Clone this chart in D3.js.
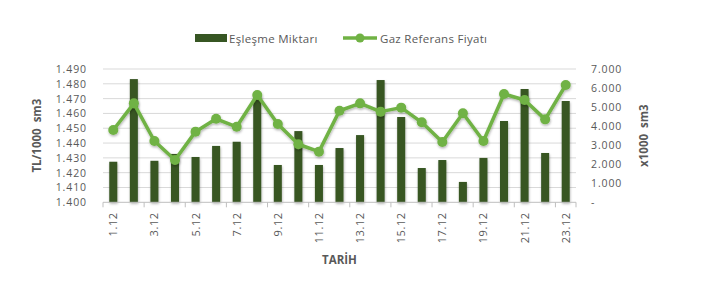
<!DOCTYPE html>
<html><head><meta charset="utf-8">
<script src="https://cdn.jsdelivr.net/npm/d3@7"></script>
<style>
body{margin:0;background:#fff;}
text{font-family:"Open Sans",sans-serif;fill:#595959;}
</style></head><body>
<svg id="c" width="703" height="282"></svg>
<script>
const categories = ["1.12","2.12","3.12","4.12","5.12","6.12","7.12","8.12","9.12","10.12","11.12","12.12","13.12","14.12","15.12","16.12","17.12","18.12","19.12","20.12","21.12","22.12","23.12"];
const eslesme = [2130,6470,2180,2540,2380,2960,3180,5600,1960,3740,1960,2850,3530,6420,4480,1800,2220,1070,2330,4270,5950,2590,5320];
const fiyat = [1.4488,1.4668,1.4414,1.4286,1.4477,1.4564,1.4510,1.4724,1.4529,1.4392,1.4342,1.4618,1.4668,1.4612,1.4639,1.4540,1.4407,1.4601,1.4414,1.4731,1.4691,1.4560,1.4792];
const leftTicks = [1.400,1.410,1.420,1.430,1.440,1.450,1.460,1.470,1.480,1.490];
const rightTicks = [0,1000,2000,3000,4000,5000,6000,7000];
const seriesNames = ["Eşleşme Miktarı","Gaz Referans Fiyatı"];

const svg = d3.select("#c");
const L=103, R=576, T=69, B=202.3;
const barColor="#375623", lineColor="#70b244";

const x = d3.scaleBand().domain(categories).range([L,R]).paddingInner(0.61).paddingOuter(0.305);
const xb = d3.scaleBand().domain(categories).range([L,R]);
const yL = d3.scaleLinear().domain([1.400,1.490]).range([B,T]);
const yR = d3.scaleLinear().domain([0,7000]).range([B,T]);

const defs = svg.append("defs");
const f = defs.append("filter").attr("id","sh").attr("x","-20%").attr("y","-20%").attr("width","140%").attr("height","160%");
f.append("feDropShadow").attr("dx",0.5).attr("dy",1.5).attr("stdDeviation",1.2).attr("flood-color","#000").attr("flood-opacity",0.3);

// grid
svg.append("g").selectAll("line").data(leftTicks.slice(1)).join("line")
 .attr("x1",L).attr("x2",R).attr("y1",d=>yL(d)).attr("y2",d=>yL(d))
 .attr("stroke","#d9d9d9").attr("stroke-width",1);

// bars
svg.append("g").attr("filter","url(#sh)").selectAll("rect").data(eslesme).join("rect")
 .attr("x",(d,i)=>x(categories[i])).attr("width",x.bandwidth())
 .attr("y",d=>yR(d)).attr("height",d=>B-yR(d)).attr("fill",barColor);

// x axis
const gx = svg.append("g").attr("transform",`translate(0,${B})`);
gx.append("line").attr("x1",L).attr("x2",R).attr("stroke","#bfbfbf");
const bounds = d3.range(0,categories.length+1,2).map(k=>L+k*xb.step()).concat([R]);
gx.selectAll("line.t").data(bounds).join("line").attr("class","t")
 .attr("x1",d=>d).attr("x2",d=>d).attr("y1",0).attr("y2",5).attr("stroke","#bfbfbf");
gx.selectAll("text.xl").data(categories.filter((d,i)=>i%2===0)).join("text").attr("class","xl")
 .attr("transform",d=>`translate(${xb(d)+xb.bandwidth()/2+4},10) rotate(-90)`)
 .attr("text-anchor","end").attr("font-size","11px").attr("letter-spacing","0.6px").text(d=>d);

// line
const line = d3.line().x((d,i)=>xb(categories[i])+xb.bandwidth()/2).y(d=>yL(d));
const lg = svg.append("g").attr("filter","url(#sh)");
lg.append("path").datum(fiyat).attr("d",line).attr("fill","none").attr("stroke",lineColor).attr("stroke-width",3.5).attr("stroke-linejoin","round");
lg.selectAll("circle").data(fiyat).join("circle")
 .attr("cx",(d,i)=>xb(categories[i])+xb.bandwidth()/2).attr("cy",d=>yL(d)).attr("r",5).attr("fill",lineColor);

// left axis labels
svg.append("g").selectAll("text").data(leftTicks).join("text")
 .attr("x",87).attr("y",d=>yL(d)+4).attr("text-anchor","end").attr("font-size","10.5px").attr("letter-spacing","0.9px")
 .text(d=>d3.format(".3f")(d));
// right axis labels
svg.append("g").selectAll("text").data(rightTicks).join("text")
 .attr("x",591).attr("y",d=>yR(d)+4).attr("text-anchor","start").attr("font-size","10.5px").attr("letter-spacing","0.9px")
 .text(d=>d===0?"-":d3.format(",")(d).replace(",","."));

// axis titles
svg.append("text").attr("transform",`translate(41,${(T+B)/2}) rotate(-90)`).attr("text-anchor","middle")
 .attr("font-size","11.5px").attr("font-weight","bold").style("white-space","pre").text("TL/1000  sm3");
svg.append("text").attr("transform",`translate(648,${(T+B)/2}) rotate(-90)`).attr("text-anchor","middle")
 .attr("font-size","11.5px").attr("font-weight","bold").style("white-space","pre").text("x1000  sm3");
svg.append("text").attr("x",(L+R)/2).attr("y",264).attr("text-anchor","middle")
 .attr("font-size","11.5px").attr("font-weight","bold").text("TARİH");

// legend
const leg = svg.append("g");
leg.append("rect").attr("x",195).attr("y",34).attr("width",32).attr("height",8).attr("fill",barColor);
leg.append("text").attr("x",229).attr("y",42.5).attr("font-size","11.5px").attr("letter-spacing","0.3px").text(seriesNames[0]);
leg.append("line").attr("x1",343).attr("x2",377).attr("y1",38).attr("y2",38).attr("stroke",lineColor).attr("stroke-width",3.5);
leg.append("circle").attr("cx",360).attr("cy",38).attr("r",4.5).attr("fill",lineColor);
leg.append("text").attr("x",380).attr("y",42.5).attr("font-size","11.5px").attr("letter-spacing","0.3px").text(seriesNames[1]);
</script></body></html>
